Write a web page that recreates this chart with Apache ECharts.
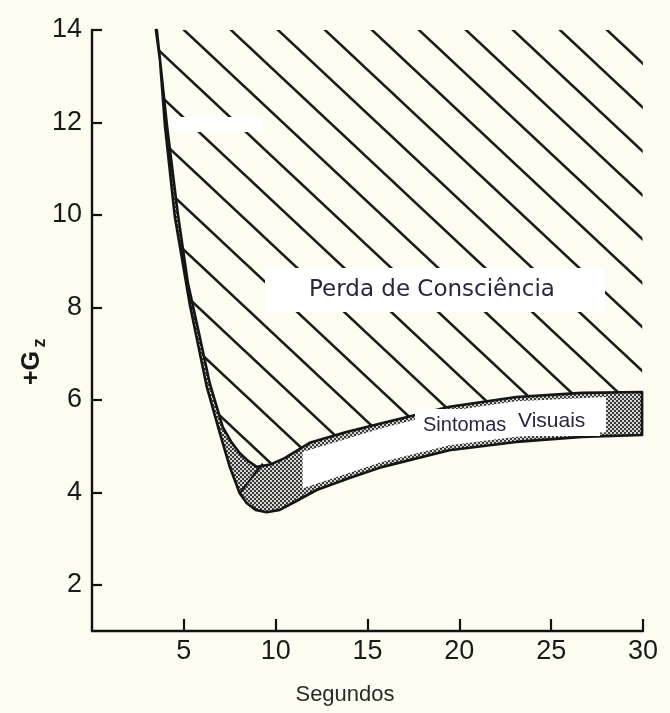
<!DOCTYPE html>
<html><head><meta charset="utf-8">
<script src="https://cdn.jsdelivr.net/npm/echarts@6/dist/echarts.min.js"></script>
<style>html,body{margin:0;padding:0;background:#fcfcf0}#c{width:670px;height:713px}</style>
</head><body><div id="c"></div>
<script>
// ---- data ----
const xTicks = [5, 10, 15, 20, 25, 30];
const yTicks = [2, 4, 6, 8, 10, 12, 14];
const X_MIN = 0, X_MAX = 30, Y_MIN = 1, Y_MAX = 14;

// Loss of consciousness threshold (upper edge of the visual-symptom band)
const upperX = [3.53, 4.08, 4.67, 5.22, 5.82, 6.41, 7.12, 7.6, 8.04, 8.5, 8.97, 9.7, 10.49, 11.85, 13.8, 15.82, 19.46, 23.10, 26.68, 29.95];
const upperY = [14.0, 11.94, 10.04, 8.53, 7.45, 6.36, 5.41, 5.08, 4.85, 4.68, 4.55, 4.6, 4.74, 5.07, 5.3, 5.50, 5.85, 6.06, 6.15, 6.17];
// Visual symptoms threshold (lower / outer edge of the band)
const lowerX = [3.48, 3.70, 3.97, 4.51, 5.33, 6.25, 6.96, 7.50, 8.04, 8.42, 8.91, 9.51, 10.22, 11.03, 12.23, 14.02, 15.82, 19.46, 23.10, 26.68, 29.95];
const lowerY = [14.0, 13.35, 11.94, 9.96, 8.05, 6.28, 5.28, 4.55, 3.98, 3.77, 3.62, 3.57, 3.62, 3.79, 4.05, 4.31, 4.55, 4.91, 5.09, 5.20, 5.24];
// White (unshaded) interior of the band
const whiteX = [11.47, 15.82, 19.46, 23.10, 27.99];
const whiteTopY = [4.87, 5.39, 5.76, 5.97, 6.06];
const whiteBotY = [4.09, 4.66, 5.02, 5.20, 5.30];
// short divider across the band, lower-left
const dividerX = [8.04, 9.3];
const dividerY = [3.98, 4.62];

const labelTop = 'Perda de Consciência';
const labelBand1 = 'Sintomas';
const labelBand2 = 'Visuais';
const xName = 'Segundos';

// ---- patterns ----
function makeHatch() {
  const w = 47, h = 44, s = 11;
  const c = document.createElement('canvas'); c.width = w; c.height = h;
  const ctx = c.getContext('2d');
  ctx.strokeStyle = '#1c1c1c'; ctx.lineWidth = 2.6; ctx.lineCap = 'butt';
  for (let k = -2; k <= 2; k++) {
    const x0 = k * w + s;
    ctx.beginPath(); ctx.moveTo(x0 - w, -h); ctx.lineTo(x0 + 2 * w, 2 * h); ctx.stroke();
  }
  return { image: c, repeat: 'repeat' };
}
function makeStipple() {
  const c = document.createElement('canvas'); c.width = 4; c.height = 4;
  const ctx = c.getContext('2d');
  ctx.fillStyle = '#d6d6d2'; ctx.fillRect(0, 0, 4, 4);
  ctx.fillStyle = '#3a3a3a'; ctx.fillRect(0, 0, 2, 2); ctx.fillRect(2, 2, 2, 2);
  return { image: c, repeat: 'repeat' };
}
const hatch = makeHatch();
const stipple = makeStipple();

function pts(xs, ys, api) { return xs.map((x, i) => api.coord([x, ys[i]])); }

const chart = echarts.init(document.getElementById('c'), null, { renderer: 'canvas' });
const option = {
  backgroundColor: '#fcfcf0',
  animation: false,
  grid: { left: 92, right: 27, top: 30, bottom: 82 },
  xAxis: {
    type: 'value', min: X_MIN, max: X_MAX,
    axisLine: { show: true, lineStyle: { color: '#111', width: 2.4 } },
    axisTick: { show: true, inside: true, length: 12, customValues: xTicks, lineStyle: { color: '#111', width: 2.2 } },
    axisLabel: { customValues: xTicks, fontSize: 27, color: '#1a1a1a', margin: 7, fontFamily: 'Liberation Sans' },
    splitLine: { show: false }
  },
  yAxis: {
    type: 'value', min: Y_MIN, max: Y_MAX,
    axisLine: { show: true, lineStyle: { color: '#111', width: 2.4 } },
    axisTick: { show: true, inside: true, length: 10, customValues: yTicks, lineStyle: { color: '#111', width: 2.2 } },
    axisLabel: { customValues: yTicks, fontSize: 27, color: '#1a1a1a', margin: 10, fontFamily: 'Liberation Sans' },
    splitLine: { show: false }
  },
  series: [
    {
      type: 'custom', coordinateSystem: 'cartesian2d', data: [[0, 0]], z: 2, silent: true,
      renderItem: (p, api) => {
        const poly = pts(upperX, upperY, api);
        poly.push(api.coord([X_MAX, Y_MAX]));
        return { type: 'polygon', shape: { points: poly }, style: { fill: hatch } };
      }
    },
    {
      type: 'custom', coordinateSystem: 'cartesian2d', data: [[0, 0]], z: 3, silent: true,
      renderItem: (p, api) => {
        const poly = pts(lowerX, lowerY, api).concat(pts(upperX, upperY, api).reverse());
        return { type: 'polygon', shape: { points: poly }, style: { fill: stipple, stroke: '#151515', lineWidth: 2.6, lineJoin: 'round' } };
      }
    },
    {
      type: 'custom', coordinateSystem: 'cartesian2d', data: [[0, 0]], z: 4, silent: true,
      renderItem: (p, api) => {
        const poly = pts(whiteX, whiteTopY, api).concat(pts(whiteX, whiteBotY, api).reverse());
        return { type: 'polygon', shape: { points: poly }, style: { fill: '#ffffff' } };
      }
    },
    {
      type: 'line', z: 5, silent: true, showSymbol: false,
      data: dividerX.map((x, i) => [x, dividerY[i]]),
      lineStyle: { color: '#151515', width: 2 }
    }
  ],
  graphic: [
    { type: 'rect', z: 100, shape: { x: 172, y: 117, width: 91, height: 15 }, style: { fill: '#ffffff' } },
    { type: 'rect', z: 100, shape: { x: 265, y: 268, width: 340, height: 44 }, style: { fill: '#ffffff' } },
    { type: 'text', z: 101, x: 432, y: 290, style: { text: labelTop, font: '23px "DejaVu Sans"', fill: '#2a2540', align: 'center', verticalAlign: 'middle' } },
    { type: 'rect', z: 100, shape: { x: 415, y: 409, width: 185, height: 27 }, style: { fill: '#ffffff' } },
    { type: 'text', z: 101, x: 423, y: 425, style: { text: labelBand1, font: '20px "Liberation Sans"', fill: '#2a2540', align: 'left', verticalAlign: 'middle' } },
    { type: 'text', z: 101, x: 518, y: 421, style: { text: labelBand2, font: '21px "Liberation Sans"', fill: '#2a2540', align: 'left', verticalAlign: 'middle' } },
    { type: 'text', z: 101, x: 345, y: 695, style: { text: xName, font: '22px "Liberation Sans"', fill: '#2a2a2a', align: 'center', verticalAlign: 'middle' } },
    { type: 'text', z: 101, x: 32, y: 368, rotation: Math.PI / 2, style: { text: '+G', font: 'bold 25px "Liberation Sans"', fill: '#1a1a1a', align: 'center', verticalAlign: 'middle' } },
    { type: 'text', z: 101, x: 40, y: 343, rotation: Math.PI / 2, style: { text: 'z', font: 'bold 18px "Liberation Sans"', fill: '#1a1a1a', align: 'center', verticalAlign: 'middle' } }
  ]
};
chart.setOption(option);
</script></body></html>
